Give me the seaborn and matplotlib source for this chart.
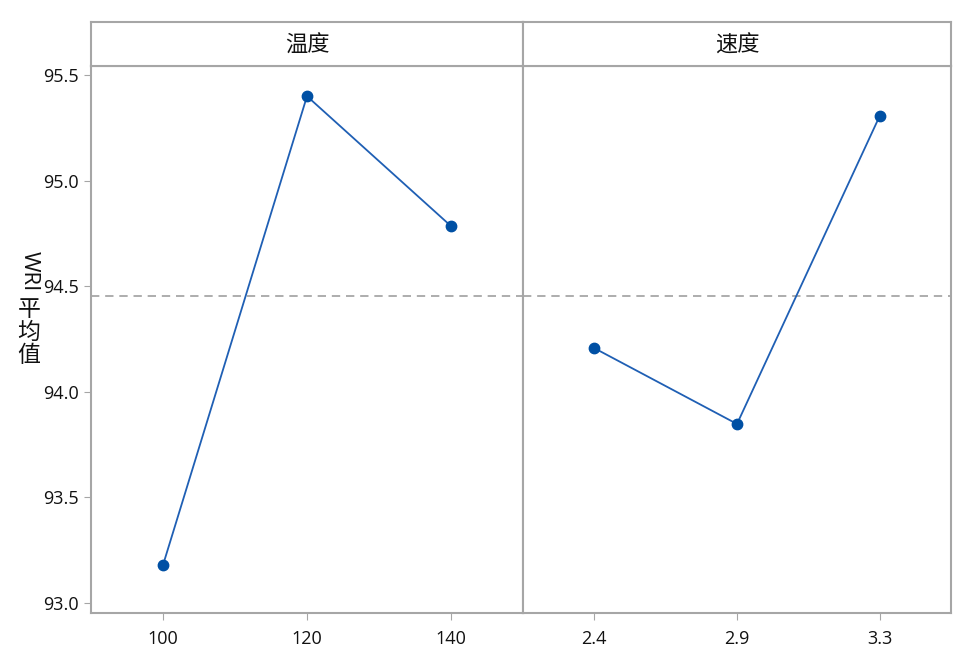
import pandas as pd
import seaborn as sns
from matplotlib import pyplot as plt

# Main effects data
temp_levels = ['100', '120', '140']
temp_means = [93.18, 95.40, 94.785]
speed_levels = ['2.4', '2.9', '3.3']
speed_means = [94.207, 93.848, 95.306]
grand_mean = 94.454
panel_titles = ['温度', '速度']
y_ticks = [93.0, 93.5, 94.0, 94.5, 95.0, 95.5]

sns.set_style('white')
plt.rcParams['font.family'] = ['Open Sans', 'Noto Sans CJK SC', 'DejaVu Sans']

line_color = '#1f5fb4'
marker_color = '#0050a4'
frame_color = '#a6a6a6'
text_color = '#111111'

fig = plt.figure(figsize=(9.6, 6.59), dpi=100)

left, right, mid = 91 / 960, 951 / 960, 523 / 960
bottom, top, head_top = 1 - 613 / 659, 1 - 66 / 659, 1 - 22 / 659

panels = [(temp_levels, temp_means), (speed_levels, speed_means)]
x0s = [left, mid]
widths = [mid - left, right - mid]

for i, (levels, means) in enumerate(panels):
    ax = fig.add_axes([x0s[i], bottom, widths[i], top - bottom])
    df = pd.DataFrame({'level': levels, 'mean': means})
    sns.pointplot(data=df, x='level', y='mean', ax=ax, color=line_color,
                  markers='o', linestyles='-', linewidth=1.3, markersize=7.5,
                  errorbar=None)
    for ln in ax.lines:
        ln.set_markerfacecolor(marker_color)
        ln.set_markeredgecolor(marker_color)
    ax.axhline(grand_mean, color='#a0a0a0', linestyle=(0, (5, 3.5)), linewidth=1.2, zorder=0)
    ax.set_xlim(-0.5, 2.5)
    ax.set_ylim(92.953, 95.543)
    ax.set_xlabel('')
    ax.set_ylabel('')
    for sp in ax.spines.values():
        sp.set_color(frame_color)
        sp.set_linewidth(1.5)
    ax.tick_params(axis='x', length=5, color=frame_color, labelsize=13, labelcolor=text_color,
                   pad=7, direction='out', bottom=True)
    if i == 0:
        ax.set_yticks(y_ticks)
        ax.set_yticklabels([f'{v:.1f}' for v in y_ticks])
        ax.tick_params(axis='y', length=5, color=frame_color, labelsize=13, labelcolor=text_color,
                       pad=4, direction='out', left=True)
    else:
        ax.set_yticks([])

    # header strip
    hax = fig.add_axes([x0s[i], top, widths[i], head_top - top])
    hax.set_xticks([])
    hax.set_yticks([])
    for sp in hax.spines.values():
        sp.set_color(frame_color)
        sp.set_linewidth(1.5)
    hax.text(0.5, 0.48, panel_titles[i], ha='center', va='center', fontsize=16,
             color=text_color, family=['Noto Sans CJK SC', 'DejaVu Sans'])

# vertical y label: "WRI" rotated, Chinese stacked upright
fig.text(29 / 960, 1 - 271 / 659, 'WRI', rotation=-90, ha='center', va='center',
         fontsize=16, color=text_color)
fig.text(29 / 960, 1 - 332 / 659, '平\n均\n值', ha='center', va='center', fontsize=16.5,
         linespacing=1.0, color=text_color, family=['Noto Sans CJK SC', 'DejaVu Sans'])

plt.savefig('out.png', dpi=100)
